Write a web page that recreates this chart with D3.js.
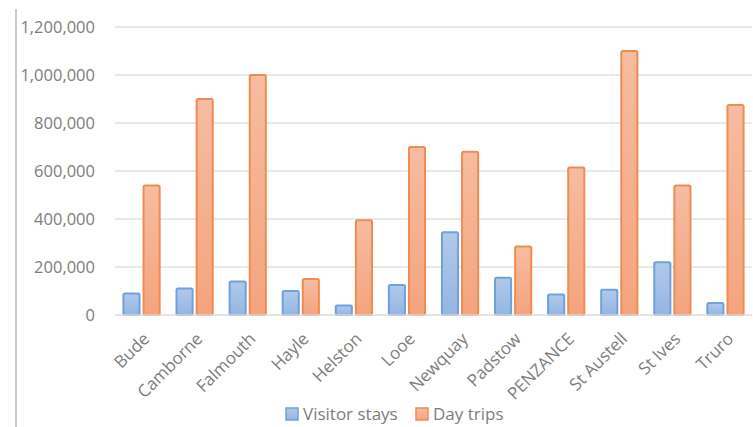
<!DOCTYPE html>
<html>
<head>
<meta charset="utf-8">
<script src="https://cdn.jsdelivr.net/npm/d3@7"></script>
<style>
  html, body { margin: 0; padding: 0; background: #fff; }
  svg { display: block; }
</style>
</head>
<body>
<svg id="chart" width="753" height="427"></svg>
<script>
const categories = ["Bude", "Camborne", "Falmouth", "Hayle", "Helston", "Looe", "Newquay", "Padstow", "PENZANCE", "St Austell", "St Ives", "Truro"];
const visitorStays = [90000, 110000, 140000, 100000, 40000, 125000, 345000, 155000, 85000, 105000, 220000, 50000];
const dayTrips = [540000, 900000, 1000000, 150000, 395000, 700000, 680000, 285000, 615000, 1100000, 540000, 875000];
const seriesNames = ["Visitor stays", "Day trips"];
const yTicks = [0, 200000, 400000, 600000, 800000, 1000000, 1200000];

const svg = d3.select("#chart");
const margin = { left: 115, right: 1, top: 27, bottom: 112 };
const W = 753, H = 427;
const plotW = W - margin.left - margin.right;
const plotH = H - margin.top - margin.bottom;

const defs = svg.append("defs");
function grad(id, c1, c2) {
  const g = defs.append("linearGradient").attr("id", id).attr("x1", 0).attr("y1", 0).attr("x2", 0).attr("y2", 1);
  g.append("stop").attr("offset", "0%").attr("stop-color", c1);
  g.append("stop").attr("offset", "100%").attr("stop-color", c2);
}
grad("gBlue", "#b1c9ea", "#94b6e2");
grad("gOrange", "#f6bca1", "#f4a47e");

const g = svg.append("g").attr("transform", `translate(${margin.left},${margin.top})`);

const x = d3.scaleBand().domain(categories).range([0, plotW]).paddingInner(0.28).paddingOuter(0.14);
const x1 = d3.scaleBand().domain(seriesNames).range([0, x.bandwidth()]).paddingInner(0.1);
const y = d3.scaleLinear().domain([0, 1200000]).range([plotH, 0]);

// left border line
svg.append("line").attr("x1", 16).attr("x2", 16).attr("y1", 9).attr("y2", H)
  .attr("stroke", "#c9c9c9").attr("stroke-width", 2);

// gridlines
g.append("g").selectAll("line").data(yTicks.filter(d => d > 0)).join("line")
  .attr("x1", 0).attr("x2", plotW)
  .attr("y1", d => y(d)).attr("y2", d => y(d))
  .attr("stroke", "#e2e2e2").attr("stroke-width", 1.5);

// y axis labels
const yAxis = d3.axisLeft(y).tickValues(yTicks).tickFormat(d3.format(",")).tickSize(0).tickPadding(20);
const ya = g.append("g").call(yAxis);
ya.select(".domain").remove();
ya.selectAll("text").attr("fill", "#7d7d7d").attr("font-size", "16.5px")
  .attr("font-family", "'Open Sans', 'Liberation Sans', sans-serif");

// bars
const data = categories.map((c, i) => ({ c, vals: [visitorStays[i], dayTrips[i]] }));
const groups = g.append("g").selectAll("g").data(data).join("g")
  .attr("transform", d => `translate(${x(d.c)},0)`);
groups.selectAll("rect").data(d => d.vals.map((v, j) => ({ v, s: seriesNames[j] }))).join("rect")
  .attr("x", d => x1(d.s) + 1)
  .attr("width", x1.bandwidth() - 2)
  .attr("y", d => y(d.v))
  .attr("height", d => y(0) - y(d.v))
  .attr("rx", 1.5)
  .attr("fill", d => d.s === seriesNames[0] ? "url(#gBlue)" : "url(#gOrange)")
  .attr("stroke", d => d.s === seriesNames[0] ? "#6fa1da" : "#ef8c52")
  .attr("stroke-width", 2);

// x axis line
g.append("line").attr("x1", 0).attr("x2", plotW).attr("y1", plotH).attr("y2", plotH)
  .attr("stroke", "#dadada").attr("stroke-width", 1.5);

// x axis labels
const xAxis = d3.axisBottom(x).tickSize(0).tickPadding(0);
const xa = g.append("g").attr("transform", `translate(0,${plotH})`).call(xAxis);
xa.select(".domain").remove();
xa.selectAll("text")
  .attr("fill", "#7d7d7d").attr("font-size", "17px")
  .attr("font-family", "'Open Sans', 'Liberation Sans', sans-serif")
  .attr("text-anchor", "end")
  .attr("dy", null).attr("y", 0)
  .attr("transform", "translate(9,25) rotate(-45)");

// legend
const legend = svg.append("g").attr("transform", "translate(285,407)");
const items = [
  { name: seriesNames[0], fill: "url(#gBlue)", stroke: "#6fa1da", x: 0 },
  { name: seriesNames[1], fill: "url(#gOrange)", stroke: "#ef8c52", x: 130 }
];
const li = legend.selectAll("g").data(items).join("g").attr("transform", d => `translate(${d.x},0)`);
li.append("rect").attr("x", 1).attr("y", 1).attr("width", 12).attr("height", 12)
  .attr("fill", d => d.fill).attr("stroke", d => d.stroke).attr("stroke-width", 1.5);
li.append("text").attr("x", 18).attr("y", 12.5).text(d => d.name)
  .attr("fill", "#7d7d7d").attr("font-size", "17px")
  .attr("font-family", "'Open Sans', 'Liberation Sans', sans-serif");
</script>
</body>
</html>
